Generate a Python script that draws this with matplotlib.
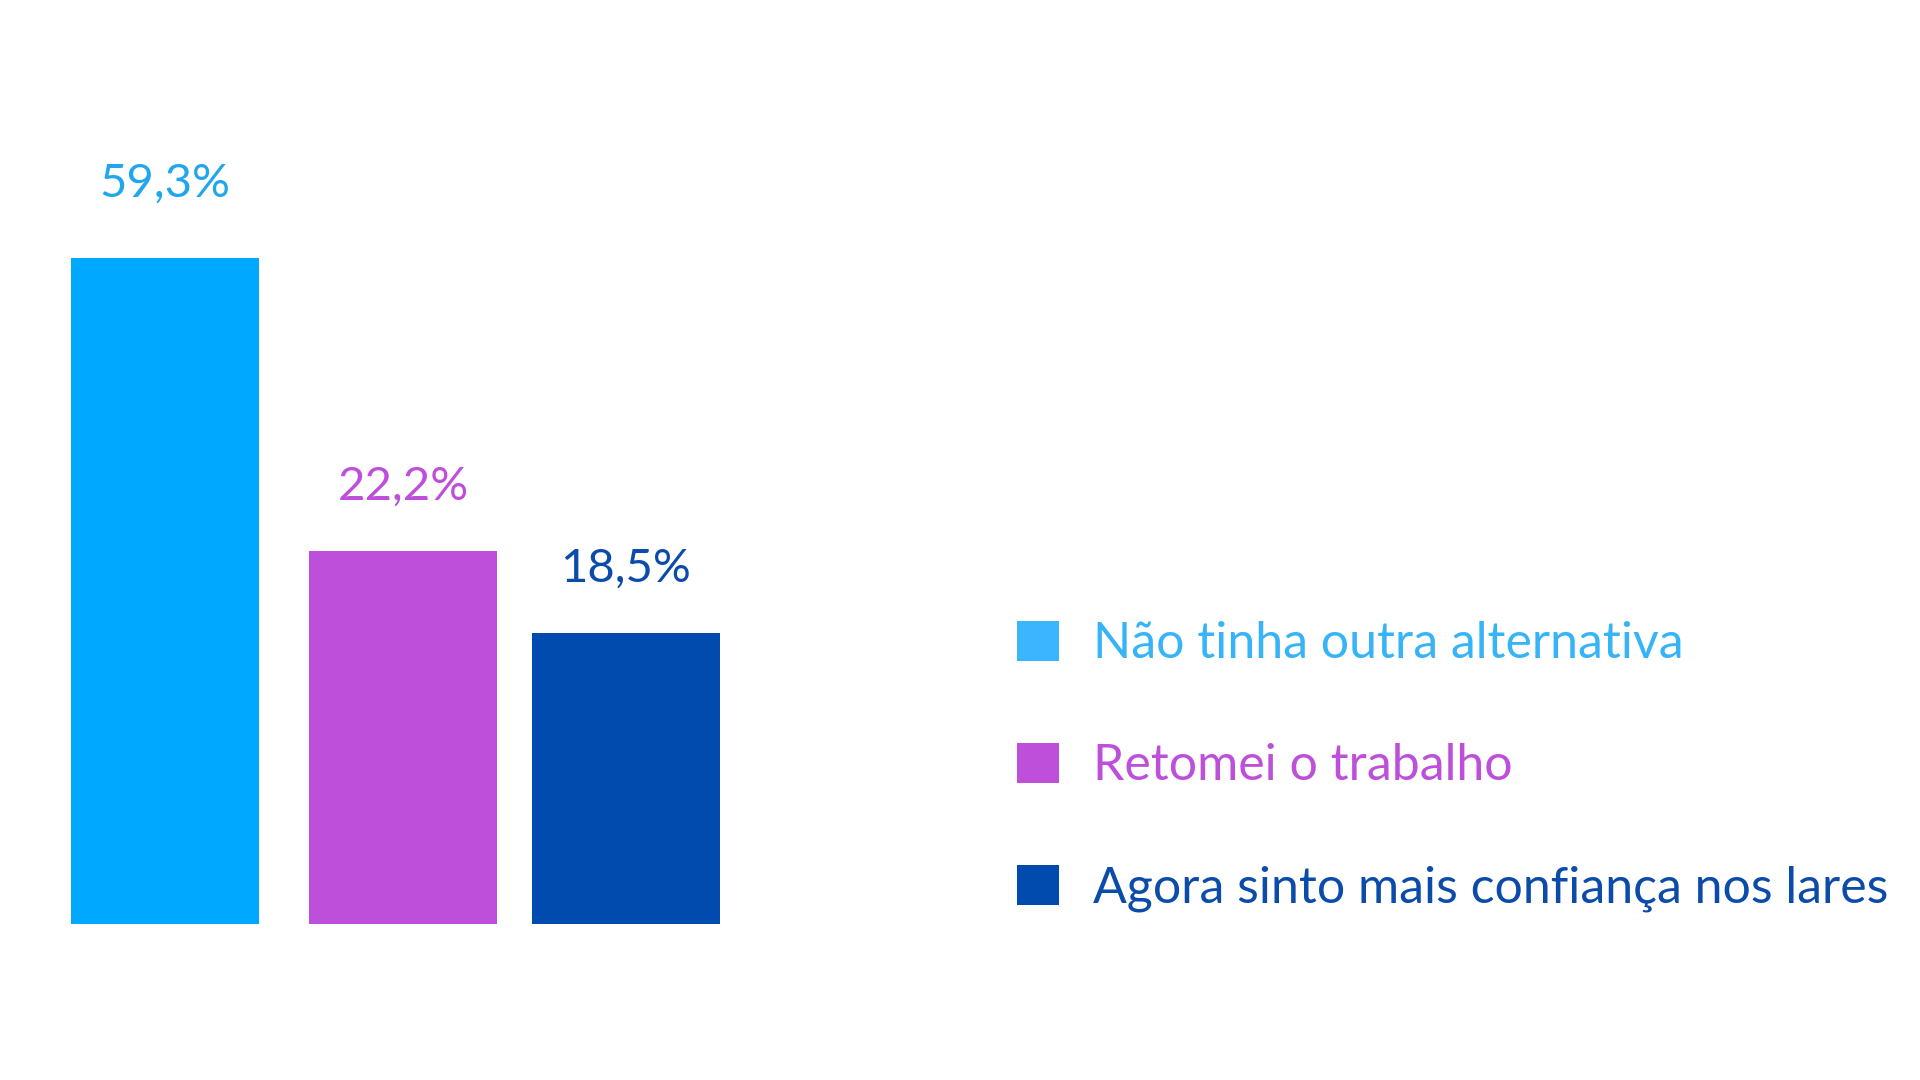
import matplotlib
matplotlib.use("Agg")
import matplotlib.pyplot as plt
from matplotlib.patches import Patch
import numpy as np

# ---- data -------------------------------------------------------------
categories = ["Não tinha outra alternativa",
              "Retomei o trabalho",
              "Agora sinto mais confiança nos lares"]
values = [59.3, 22.2, 18.5]              # printed percentages
# bar lengths as drawn in the picture (not proportional to the labels)
bar_lengths = [59.3, 33.2, 25.9]

# ---- style ------------------------------------------------------------
bar_colors = ["#00A8FF", "#BD4FDB", "#004BAD"]
label_colors = ["#1FA6EC", "#BD4FDB", "#0B4BAA"]
legend_colors = ["#3BB5FF", "#BD4FDB", "#004BAD"]
legend_text_colors = ["#37B3F7", "#BD4FDB", "#0B4BAA"]

plt.rcParams["font.family"] = ["Lato", "DejaVu Sans"]

W, H = 1920, 1080
fig = plt.figure(figsize=(W / 100, H / 100), dpi=100)
fig.patch.set_facecolor("white")

# axes placement in figure fractions
ax = fig.add_axes([46 / W, (H - 924) / H, 714 / W, 842 / H])
xpos = np.array([0.0, 1.0, 1.937])
ax.bar(xpos, bar_lengths, width=0.794, color=bar_colors, linewidth=0)
ax.set_xlim(-0.5, 2.5)
ax.set_ylim(0, 75)
ax.axis("off")

label_offsets = [44, 37, 37]   # points above bar top
for x, h, v, c, off in zip(xpos, bar_lengths, values, label_colors, label_offsets):
    ax.annotate(f"{v:.1f}%".replace(".", ","), xy=(x, h),
                xytext=(0, off), textcoords="offset points",
                ha="center", va="baseline", fontsize=34, color=c)

handles = [Patch(facecolor=c, edgecolor="none") for c in legend_colors]
leg = fig.legend(handles, categories, loc="upper left",
                 bbox_to_anchor=(1017 / W, 1 - 621 / H),
                 frameon=False, fontsize=36,
                 handlelength=0.84, handleheight=0.84,
                 handletextpad=0.68, labelspacing=1.52,
                 borderpad=0, borderaxespad=0)
for t, c in zip(leg.get_texts(), legend_text_colors):
    t.set_color(c)

fig.savefig("out.png", dpi=100, facecolor="white")
